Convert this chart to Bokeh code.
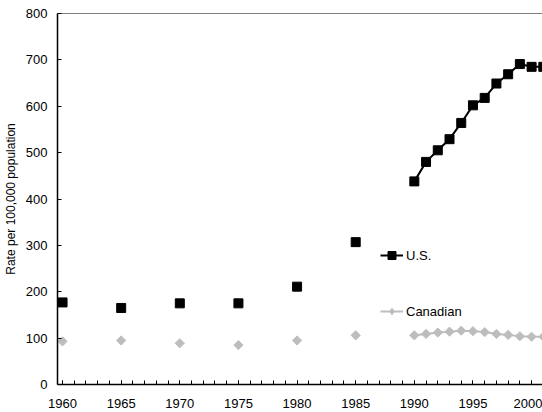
from bokeh.plotting import figure
from bokeh.models import Range1d, FixedTicker, Span, Legend, LegendItem
from bokeh.embed import file_html
from bokeh.resources import INLINE

# ---- data ----
us_years_sparse = [1960, 1965, 1970, 1975, 1980, 1985]
us_sparse = [177, 165, 175, 175, 211, 307]
us_years = [1990, 1991, 1992, 1993, 1994, 1995, 1996, 1997, 1998, 1999, 2000, 2001]
us_vals = [438, 480, 505, 529, 564, 602, 618, 649, 669, 691, 685, 685]

ca_years_sparse = [1960, 1965, 1970, 1975, 1980, 1985]
ca_sparse = [93, 95, 89, 85, 95, 106]
ca_years = [1990, 1991, 1992, 1993, 1994, 1995, 1996, 1997, 1998, 1999, 2000, 2001]
ca_vals = [106, 109, 112, 114, 116, 115, 113, 109, 107, 104, 103, 103]

x_major = [1960, 1965, 1970, 1975, 1980, 1985, 1990, 1995, 2000]
x_minor = list(range(1959, 2002))
y_major = [0, 100, 200, 300, 400, 500, 600, 700, 800]

FONT = "Liberation Sans"
GREY = "#BDBDBD"
ROT = 0.785398

p = figure(width=542, height=412, output_backend="svg", toolbar_location=None,
           x_range=Range1d(1959.57, 2000.93), y_range=Range1d(0, 800),
           min_border_left=57, min_border_right=0, min_border_top=13, min_border_bottom=28)
p.outline_line_color = None
p.xgrid.visible = False
p.ygrid.visible = False
p.background_fill_color = "white"
p.border_fill_color = "white"

# US
us_pts = p.scatter(us_years_sparse, us_sparse, marker="square", size=9, color="black")
us_line = p.line(us_years, us_vals, line_color="black", line_width=2)
us_mk = p.scatter(us_years, us_vals, marker="square", size=9, color="black")

# Canadian
ca_pts = p.scatter(ca_years_sparse, ca_sparse, marker="square", angle=ROT, size=6.5, color=GREY)
ca_line = p.line(ca_years, ca_vals, line_color=GREY, line_width=2)
ca_mk = p.scatter(ca_years, ca_vals, marker="square", angle=ROT, size=6.5, color=GREY)
# diamond glyph used only for the legend swatch (zero size in the plot)
ca_leg = p.scatter(ca_years, ca_vals, marker="diamond", size=0, fill_color=GREY, line_color=None)

# top border line
p.add_layout(Span(location=800, dimension="width", line_color="black", line_width=1))

# axes
xa = p.xaxis[0]
xa.ticker = FixedTicker(ticks=x_major, minor_ticks=x_minor)
xa.major_tick_in = 4
xa.major_tick_out = 0
xa.minor_tick_in = 4
xa.minor_tick_out = 0
xa.major_label_standoff = 14
xa.axis_line_width = 1.5
xa.major_label_text_font = FONT
xa.major_label_text_font_size = "13px"
xa.major_label_text_color = "black"

ya = p.yaxis[0]
ya.ticker = FixedTicker(ticks=y_major)
ya.major_tick_in = 4
ya.major_tick_out = 0
ya.minor_tick_line_color = None
ya.major_label_standoff = 10
ya.axis_line_width = 1.5
ya.major_label_text_font = FONT
ya.major_label_text_font_size = "13px"
ya.major_label_text_color = "black"
ya.axis_label = "Rate per 100,000 population"
ya.axis_label_text_font = FONT
ya.axis_label_text_font_size = "12px"
ya.axis_label_text_font_style = "normal"
ya.axis_label_text_color = "black"
ya.axis_label_standoff = 5

legend = Legend(items=[LegendItem(label="U.S.", renderers=[us_line, us_mk]),
                       LegendItem(label="Canadian", renderers=[ca_line, ca_leg])],
                location=(323, 63), orientation="vertical",
                border_line_color=None, background_fill_alpha=0,
                padding=0, margin=0, spacing=36,
                glyph_width=23, glyph_height=20, label_height=20,
                label_standoff=3, label_text_font=FONT,
                label_text_font_size="13px", label_text_color="black")
p.add_layout(legend, "center")

open("out.html", "w").write(file_html(p, INLINE))
